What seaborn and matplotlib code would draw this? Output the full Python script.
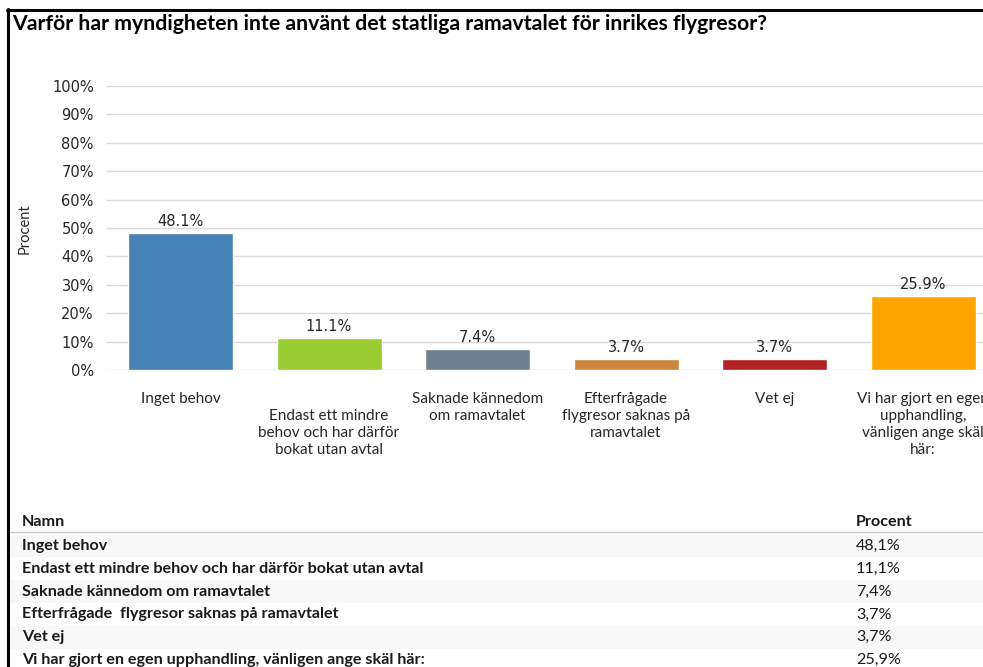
import matplotlib
matplotlib.use("Agg")
import matplotlib.pyplot as plt
from matplotlib.lines import Line2D
from matplotlib.patches import Rectangle
import seaborn as sns

title = "Varför har myndigheten inte använt det statliga ramavtalet för inrikes flygresor?"
categories = [
    "Inget behov",
    "Endast ett mindre behov och har därför bokat utan avtal",
    "Saknade kännedom om ramavtalet",
    "Efterfrågade flygresor saknas på ramavtalet",
    "Vet ej",
    "Vi har gjort en egen upphandling, vänligen ange skäl här:",
]
axis_labels = [
    "Inget behov",
    "Endast ett mindre\nbehov och har därför\nbokat utan avtal",
    "Saknade kännedom\nom ramavtalet",
    "Efterfrågade\nflygresor saknas på\nramavtalet",
    "Vet ej",
    "Vi har gjort en egen\nupphandling,\nvänligen ange skäl\nhär:",
]
table_names = [
    "Inget behov",
    "Endast ett mindre behov och har därför bokat utan avtal",
    "Saknade kännedom om ramavtalet",
    "Efterfrågade  flygresor saknas på ramavtalet",
    "Vet ej",
    "Vi har gjort en egen upphandling, vänligen ange skäl här:",
]
values = [48.1, 11.1, 7.4, 3.7, 3.7, 25.9]
colors = ["#4682B4", "#9ACD32", "#708090", "#CD853F", "#B22222", "#FFA500"]
yticks = [0, 10, 20, 30, 40, 50, 60, 70, 80, 90, 100]

sns.set_theme(style="white")
plt.rcParams["font.family"] = ["Lato", "DejaVu Sans"]

W, H = 983, 667
fig = plt.figure(figsize=(W / 100, H / 100), dpi=100)
fig.patch.set_facecolor("white")


def fx(px):
    return px / W


def fy(py):
    return 1 - py / H


# frame around the report panel
fig.add_artist(Line2D([fx(8), fx(8)], [0, fy(9)], color="black", lw=2.2))
fig.add_artist(Line2D([fx(7), 1], [fy(10), fy(10)], color="black", lw=2.2))

fig.text(fx(12), fy(24), title, fontsize=15.3, fontweight="bold",
         ha="left", va="center", color="black")

# bar chart
left, right, bottom, top = 106.3, 997.3, 370, 86
ax = fig.add_axes([fx(left), fy(bottom), fx(right - left), (bottom - top) / H])
df = {"cat": categories, "val": values}
sns.barplot(x="cat", y="val", hue="cat", data=df, palette=colors,
            width=0.707, legend=False, ax=ax, saturation=1)
ax.set_xlim(-0.5, 5.5)
ax.set_ylim(0, 100)
ax.set_yticks(yticks)
ax.set_yticklabels([f"{t}%" for t in yticks], fontsize=10.5, color="#262626",
                   fontfamily="DejaVu Sans")
ax.tick_params(axis="y", length=0, pad=9)
ax.set_xticks([])
ax.set_xlabel("")
ax.set_ylabel("")
for s in ax.spines.values():
    s.set_visible(False)
ax.set_axisbelow(True)
ax.yaxis.grid(True, color="#d9d9d9", lw=1)

for cont in ax.containers:
    ax.bar_label(cont, fmt="%.1f%%", padding=3, fontsize=10.5,
                 color="#262626", fontfamily="DejaVu Sans")

for i, lab in enumerate(axis_labels):
    off = -28 if i == 1 else -15.5
    ax.annotate(lab, xy=(i, 0), xycoords=("data", "axes fraction"),
                xytext=(0, off), textcoords="offset points",
                ha="center", va="top", fontsize=11, color="#262626",
                linespacing=1.3, annotation_clip=False)

fig.text(fx(25), fy(229), "Procent", rotation=90, ha="center", va="center",
         fontsize=10.5, color="#262626")

# summary table
row_h = 22.8
y0 = 546
for i in range(len(table_names)):
    if i % 2 == 0:
        fig.add_artist(Rectangle((fx(10), fy(y0 + i * row_h + row_h / 2)),
                                 1 - fx(10), row_h / H,
                                 facecolor="#f8f8f8", edgecolor="none",
                                 transform=fig.transFigure, zorder=0))
fig.add_artist(Line2D([fx(10), 1], [fy(532), fy(532)], color="#c8c8c8", lw=1))
fig.text(fx(22), fy(522), "Namn", fontsize=11.6, fontweight="bold",
         ha="left", va="center", color="#1a1a1a")
fig.text(fx(856), fy(522), "Procent", fontsize=11.6, fontweight="bold",
         ha="left", va="center", color="#1a1a1a")
for i, (name, v) in enumerate(zip(table_names, values)):
    y = fy(y0 + i * row_h)
    fig.text(fx(22), y, name, fontsize=11.6, fontweight="bold",
             ha="left", va="center", color="#1a1a1a")
    fig.text(fx(856), y, f"{v:.1f}%".replace(".", ","), fontsize=11.6,
             ha="left", va="center", color="#1a1a1a")

fig.savefig("out.png", dpi=100)
